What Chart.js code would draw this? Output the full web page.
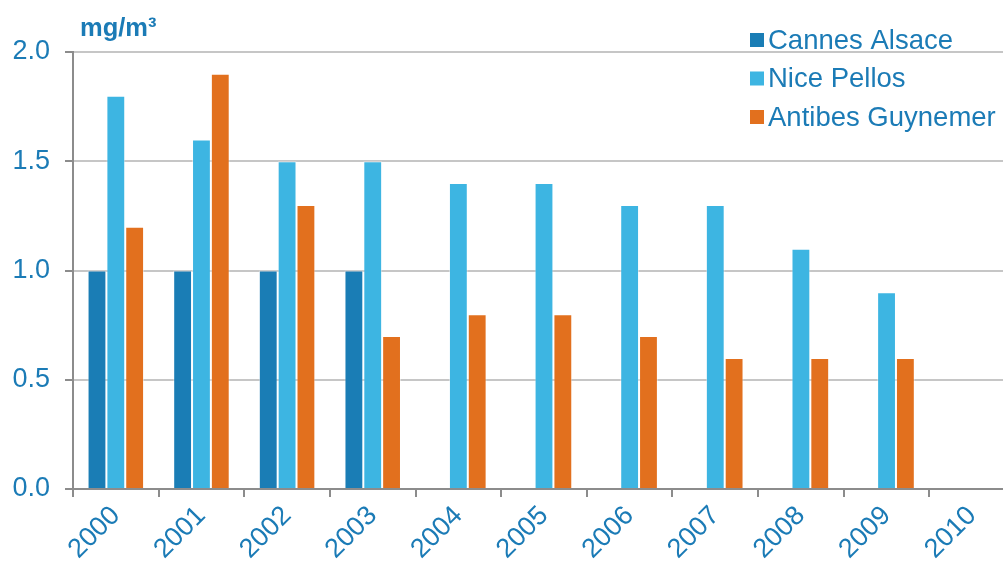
<!DOCTYPE html>
<html>
<head>
<meta charset="utf-8">
<script src="https://cdn.jsdelivr.net/npm/chart.js@4/dist/chart.umd.min.js"></script>
<style>
html,body{margin:0;padding:0;overflow:hidden;background:#fff;}
#wrap{position:relative;width:1016px;height:564px;}
</style>
</head>
<body>
<div id="wrap"><canvas id="c"></canvas></div>
<script>
const categories = ['2000','2001','2002','2003','2004','2005','2006','2007','2008','2009','2010'];
const cannesAlsace = [1.0, 1.0, 1.0, 1.0, null, null, null, null, null, null, null];
const nicePellos = [1.8, 1.6, 1.5, 1.5, 1.4, 1.4, 1.3, 1.3, 1.1, 0.9, null];
const antibesGuynemer = [1.2, 1.9, 1.3, 0.7, 0.8, 0.8, 0.7, 0.6, 0.6, 0.6, null];
const seriesNames = ['Cannes Alsace', 'Nice Pellos', 'Antibes Guynemer'];
const unitLabel = 'mg/m³';

const textColor = '#1b7bb6';
const colors = ['#1a7db5', '#3db5e2', '#e2701e'];
const FONT = 'Liberation Sans, Arial, sans-serif';

const overlay = {
  id: 'overlay',
  afterDraw(chart) {
    const ctx = chart.ctx;
    ctx.save();
    ctx.fillStyle = textColor;
    ctx.font = 'bold 25.5px ' + FONT;
    ctx.textBaseline = 'alphabetic';
    ctx.textAlign = 'left';
    ctx.fillText(unitLabel, 80, 36);
    ctx.font = '27.5px ' + FONT;
    ctx.textBaseline = 'middle';
    chart.data.datasets.forEach((ds, i) => {
      const y = 40 + i * 38.5;
      ctx.fillStyle = ds.backgroundColor;
      ctx.fillRect(750, y - 7, 14, 14);
      ctx.fillStyle = textColor;
      ctx.fillText(ds.label, 768, y + 1);
    });
    ctx.restore();
  }
};

new Chart(document.getElementById('c'), {
  type: 'bar',
  data: {
    labels: categories,
    datasets: [
      { label: seriesNames[0], data: cannesAlsace, backgroundColor: colors[0] },
      { label: seriesNames[1], data: nicePellos, backgroundColor: colors[1] },
      { label: seriesNames[2], data: antibesGuynemer, backgroundColor: colors[2] }
    ]
  },
  options: {
    responsive: true,
    maintainAspectRatio: false,
    animation: false,
    layout: { padding: { top: 52, right: 1, left: 0, bottom: 0 } },
    datasets: {
      bar: {
        categoryPercentage: 0.66,
        barPercentage: 1.0,
        borderWidth: 1,
        borderColor: 'rgba(255,255,255,0.45)'
      }
    },
    plugins: { legend: { display: false }, tooltip: { enabled: false }, title: { display: false } },
    scales: {
      x: {
        offset: true,
        grid: { offset: true, drawOnChartArea: false, drawTicks: true, tickLength: 8, tickColor: '#8c8c8c', lineWidth: 2 },
        border: { display: true, color: '#8c8c8c', width: 2 },
        ticks: { color: textColor, font: { family: FONT, size: 27 }, maxRotation: 45, minRotation: 45, padding: 3, autoSkip: false },
        afterFit(scale) { scale.height = 75; }
      },
      y: {
        min: 0, max: 2,
        ticks: { stepSize: 0.5, color: textColor, font: { family: FONT, size: 27 }, padding: 15,
          callback: v => Number(v).toFixed(1) },
        grid: { color: '#c6c6c6', lineWidth: 2, tickLength: 8, tickColor: '#8c8c8c' },
        border: { display: true, color: '#8c8c8c', width: 2 },
        afterFit(scale) { scale.width = 73; }
      }
    }
  },
  plugins: [overlay]
});
</script>
</body>
</html>
